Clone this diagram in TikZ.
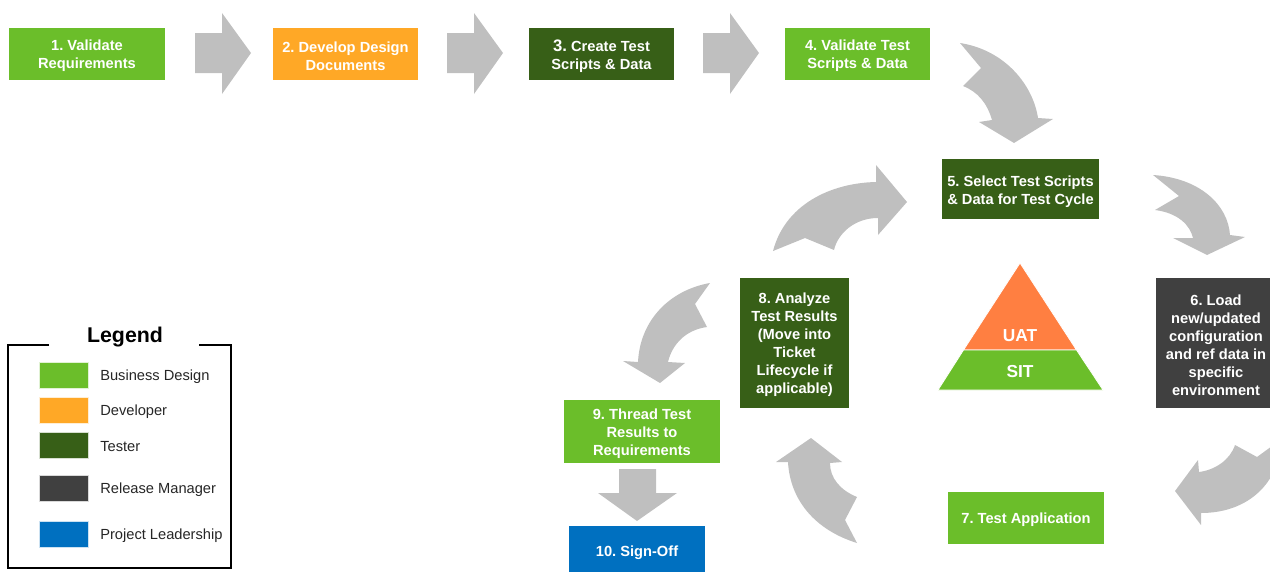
\documentclass[tikz,border=0pt]{standalone}
\usepackage{fontspec}
\setmainfont{Liberation Sans}
\AtBeginDocument{\frenchspacing}

\definecolor{bizgreen}{HTML}{6BBE2A}
\definecolor{devorange}{HTML}{FFA826}
\definecolor{testgreen}{HTML}{375F17}
\definecolor{relgray}{HTML}{404040}
\definecolor{leadblue}{HTML}{0070C0}
\definecolor{arrowgray}{HTML}{BFBFBF}
\definecolor{uatorange}{HTML}{FF7F41}

\begin{document}
\begin{tikzpicture}
\tikzset{stepbox/.style={fill=#1,inner sep=0pt,anchor=center}}
\tikzset{steptext/.style={text=white,font=\bfseries\fontsize{11}{13.5}\selectfont,align=center,inner sep=0pt,anchor=center,yshift=-1.5pt}}
\tikzset{blockarrow/.style={fill=arrowgray,draw=none}}
\tikzset{swatch/.style={fill=#1,draw=white!80!#1,line width=0.4pt,minimum width=36.75pt,minimum height=19.5pt,inner sep=0pt,anchor=center}}
\tikzset{legendtext/.style={font=\fontsize{11}{13}\selectfont,text=black!85,inner sep=0pt,anchor=west,yshift=-1.5pt}}
\tikzset{layertext/.style={text=white,font=\bfseries\fontsize{13}{15}\selectfont,inner sep=0pt,anchor=center,yshift=-0.75pt}}

\begin{scope}[x={(0.75pt,0pt)},y={(0pt,-0.75pt)}]
\clip (0,0) rectangle (1270,571);

% top row
\node[stepbox=bizgreen,minimum width=117pt,minimum height=39pt] (validate) at (87,54) {};
\node[steptext] (t1) at (validate.center) {1. Validate\\Requirements};
\node[stepbox=devorange,minimum width=108.75pt,minimum height=39pt] (develop) at (345.5,54) {};
\node[steptext] (t2) at (develop.center) {2. Develop Design\\Documents};
\node[stepbox=testgreen,minimum width=108.75pt,minimum height=39pt] (create) at (601.5,54) {};
\node[steptext] (t3) at (create.center) {{\fontsize{12.5}{13.5}\selectfont 3.} Create Test\\Scripts \& Data};
\node[stepbox=bizgreen,minimum width=108.75pt,minimum height=39pt] (check) at (857.5,54) {};
\node[steptext] (t4) at (check.center) {4. Validate Test\\Scripts \& Data};

\foreach \x in {195,447,703} {
  \path[blockarrow] (\x,33) -- (\x+27,33) -- (\x+27,13) -- (\x+56,53) -- (\x+27,94) -- (\x+27,73) -- (\x,73) -- cycle;
}

% test cycle
\node[stepbox=testgreen,minimum width=117.75pt,minimum height=45pt] (select) at (1020.5,189) {};
\node[steptext,yshift=-0.5pt] (t5) at (select.center) {5. Select Test Scripts\\\& Data for Test Cycle};
\node[stepbox=relgray,minimum width=90pt,minimum height=97.5pt] (load) at (1216,343) {};
\node[steptext] (t6) at (load.center) {6. Load\\new/updated\\configuration\\and ref data in\\specific\\environment};
\node[stepbox=bizgreen,minimum width=117pt,minimum height=39pt] (testapp) at (1026,518) {};
\node[steptext] (t7) at (testapp.center) {7. Test Application};
\node[stepbox=testgreen,minimum width=81.75pt,minimum height=97.5pt] (analyze) at (794.5,343) {};
\node[steptext] (t8) at (analyze.center) {8. Analyze\\Test Results\\(Move into\\Ticket\\Lifecycle if\\applicable)};
\node[stepbox=bizgreen,minimum width=117pt,minimum height=47.25pt] (thread) at (642,431.5) {};
\node[steptext] (t9) at (thread.center) {9. Thread Test\\Results to\\Requirements};
\node[stepbox=leadblue,minimum width=102pt,minimum height=37.5pt] (signoff) at (637,551) {};
\node[steptext] (t10) at (signoff.center) {10. Sign-Off};

% curved arrows
\path[blockarrow] (960,43) .. controls (1005,50) and (1033,85) .. (1038,118) -- (1053,119) -- (1014,143) -- (979,122) -- (992,120) .. controls (987,103) and (978,92) .. (963,86) -- (981,68) -- cycle;
\path[blockarrow] (1153,175) .. controls (1200,178) and (1228,205) .. (1230,235) -- (1245,237) -- (1207,255) -- (1173,238) -- (1193,238) .. controls (1190,225) and (1178,213) .. (1155,210) -- (1179,196) -- cycle;
\path[blockarrow] (1283,438) .. controls (1278,490) and (1242,513) .. (1201,513) -- (1201,525) -- (1175,491) -- (1198,460) -- (1199,472) .. controls (1215,470) and (1230,460) .. (1235,445) -- (1257,457) -- cycle;
\path[blockarrow] (857,543) .. controls (815,530) and (790,500) .. (788,462) -- (776,462) -- (811,438) -- (842,462) -- (830,463) .. controls (830,478) and (840,490) .. (857,497) -- (845,520) -- cycle;
\path[blockarrow] (773,251) .. controls (785,205) and (830,183) .. (876,182) -- (876,165) -- (907,202) -- (878,235) -- (878,218) .. controls (855,218) and (838,233) .. (834,250) -- (805,238) -- cycle;
\path[blockarrow] (710,283) .. controls (670,290) and (640,320) .. (638,362) -- (623,361) -- (660,383) -- (685,363) -- (668,362) .. controls (672,345) and (685,330) .. (707,327) -- (695,304) -- cycle;

% down arrow to sign-off
\path[blockarrow] (619,469) -- (656,469) -- (656,493) -- (677,493) -- (637,521) -- (598,493) -- (619,493) -- cycle;

% pyramid
\path[fill=uatorange,draw=white,line width=0.6pt] (1020,263) -- (1076.5,350) -- (963.5,350) -- cycle;
\path[fill=bizgreen,draw=white,line width=0.6pt] (963.5,350) -- (1076.5,350) -- (1103,390) -- (938,390) -- cycle;
\node[layertext] (uat) at (1020,335) {UAT};
\node[layertext] (sit) at (1020,371) {SIT};

% legend
\path[draw=black,line width=1.2pt] (49,345) -- (8,345) -- (8,568) -- (231,568) -- (231,345) -- (199,345);
\node[font=\bfseries\fontsize{16}{18}\selectfont,inner sep=0pt,yshift=-0.75pt] (legend) at (125,336) {Legend};
\foreach \y/\c/\t in {375/bizgreen/Business Design,410/devorange/Developer,445/testgreen/Tester,488/relgray/Release Manager,534/leadblue/Project Leadership} {
  \node[swatch=\c] (sw\y) at (63.5,\y) {};
  \node[legendtext] (lb\y) at (100,\y) {\t};
}

\end{scope}
\end{tikzpicture}
\end{document}
